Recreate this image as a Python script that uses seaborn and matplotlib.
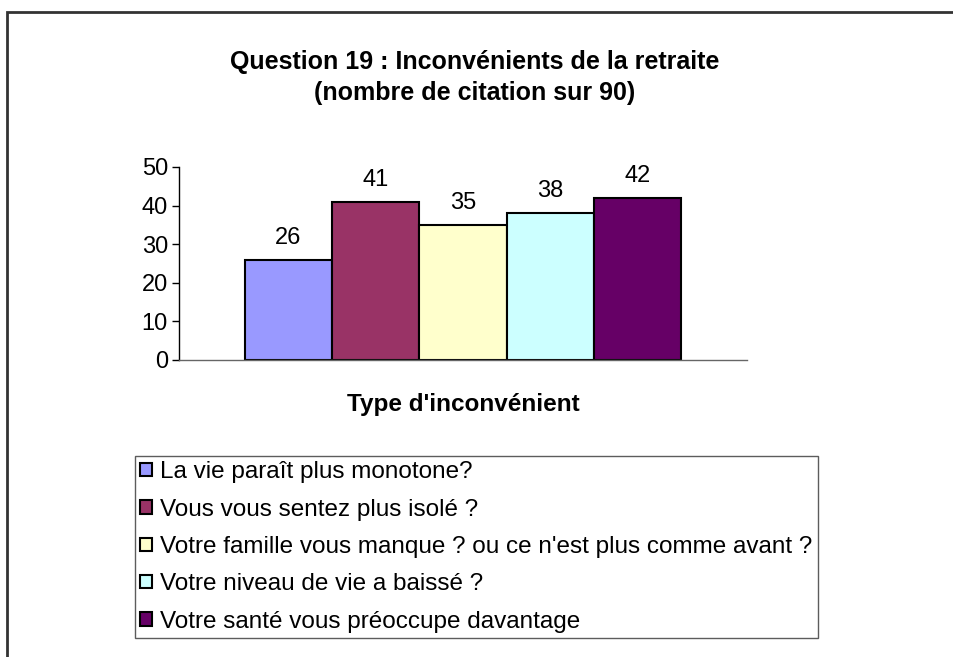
import matplotlib
matplotlib.use("Agg")
import matplotlib.pyplot as plt
import seaborn as sns
import pandas as pd
from matplotlib.patches import Rectangle

categories = [
    "La vie paraît plus monotone?",
    "Vous vous sentez plus isolé ?",
    "Votre famille vous manque ? ou ce n'est plus comme avant ?",
    "Votre niveau de vie a baissé ?",
    "Votre santé vous préoccupe davantage",
]
values = [26, 41, 35, 38, 42]
colors = ["#9999FF", "#993366", "#FFFFCC", "#CCFFFF", "#660066"]
yticks = [0, 10, 20, 30, 40, 50]
title = "Question 19 : Inconvénients de la retraite\n(nombre de citation sur 90)"
xlabel = "Type d'inconvénient"

sns.set_theme(style="white")
plt.rcParams["font.family"] = ["Liberation Sans", "DejaVu Sans"]
plt.rcParams["text.color"] = "black"
plt.rcParams["xtick.color"] = "black"
plt.rcParams["ytick.color"] = "black"

df = pd.DataFrame({"cat": categories, "val": values})

W, H = 954, 657
fig = plt.figure(figsize=(W / 100, H / 100), dpi=100)
fig.patch.set_facecolor("white")
ax = fig.add_axes([179 / W, 1 - 360 / H, 568 / W, 193 / H])

sns.barplot(data=df, x="cat", y="val", hue="cat", palette=colors,
            width=1.0, edgecolor="black", linewidth=1.5, legend=False,
            saturation=1, ax=ax)

for c in ax.containers:
    ax.bar_label(c, padding=8, fontsize=17, color="black")

ax.set_xlim(-1.25, 5.25)
ax.set_ylim(0, 50)
ax.set_yticks(yticks)
ax.set_yticklabels([str(t) for t in yticks], fontsize=17, color="black")
ax.set_xticks([])
ax.set_xlabel("")
ax.set_ylabel("")
ax.tick_params(axis="y", direction="out", length=5, width=1, color="black",
               left=True, pad=3)
for s in ["top", "right"]:
    ax.spines[s].set_visible(False)
ax.spines["left"].set_color("black")
ax.spines["bottom"].set_color("#666666")
for s in ["left", "bottom"]:
    ax.spines[s].set_linewidth(1.0)
ax.set_facecolor("white")

fig.text(475 / W, 1 - 77.5 / H, title, ha="center", va="center",
         fontsize=18, fontweight="bold", linespacing=1.38, color="black")
fig.text(463 / W, 1 - 405 / H, xlabel, ha="center", va="center",
         fontsize=17.5, fontweight="bold", color="black")

handles = [Rectangle((0, 0), 1, 1, facecolor=col, edgecolor="black", linewidth=1.5)
           for col in colors]
leg = fig.legend(handles, categories, loc="upper left",
                 bbox_to_anchor=(135 / W, 1 - 456 / H),
                 fontsize=17.5, frameon=True, fancybox=False,
                 handlelength=0.48, handleheight=0.48, handletextpad=0.33,
                 labelspacing=0.63, borderpad=0.22, borderaxespad=0)
leg.get_frame().set_edgecolor("#333333")
leg.get_frame().set_linewidth(1.0)

fig.add_artist(Rectangle((7 / W, -0.1), 1.2, 1.1 - 12 / H,
                         transform=fig.transFigure, fill=False,
                         edgecolor="#333333", linewidth=2))

fig.savefig("out.png", dpi=100, facecolor="white")
